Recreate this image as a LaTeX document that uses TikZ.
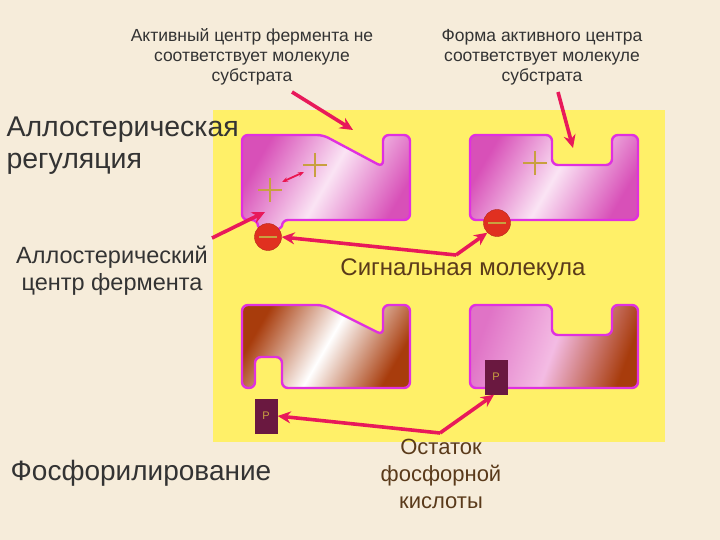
\documentclass[tikz,border=0pt]{standalone}
\usepackage{fontspec}
\setmainfont{Liberation Sans}
\usetikzlibrary{arrows.meta}
\definecolor{bg}{HTML}{F6ECDA}
\definecolor{yel}{HTML}{FFF068}
\definecolor{arr}{HTML}{E8195A}
\definecolor{mag}{HTML}{E030E0}
\definecolor{pinkA}{HTML}{D850B8}
\definecolor{pinkB}{HTML}{E878C8}
\definecolor{brownA}{HTML}{A83C0C}
\definecolor{gold}{HTML}{C8A040}
\definecolor{minusred}{HTML}{E03020}
\definecolor{pbox}{HTML}{6A1840}
\definecolor{txt}{HTML}{333333}
\definecolor{sig}{HTML}{5A3A1A}
\begin{document}
\begin{tikzpicture}[x=1pt,y=-1pt,
  enz/.style={draw=mag,line width=2.4pt,rounded corners=6},
  pinkfill/.style={left color=pinkA,right color=pinkA,middle color=white!80!pinkB,shading angle=60},
  brownfill/.style={left color=brownA,right color=brownA,middle color=white,shading angle=60},
  mixfill/.style={left color=pinkA!80!white,right color=brownA,middle color=pinkB!50!white,shading angle=70},
  pointer/.style={draw=arr,line width=3.6pt,-{Stealth[length=13pt,width=12pt]}},
  minusc/.style={circle,fill=minusred,draw=minusred!80!black,minimum size=27pt,inner sep=0pt},
  pnode/.style={fill=pbox,text=gold,font=\fontsize{11}{11}\selectfont,minimum width=23pt,minimum height=35pt,inner sep=0pt},
  lab/.style={text=txt,align=center,font=\fontsize{17.5}{20}\selectfont},
  big/.style={text=txt,align=left,font=\fontsize{28.5}{32}\selectfont}]
\fill[bg] (0,0) rectangle (720,540);
\useasboundingbox (0,0) rectangle (720,540);
\fill[yel] (213,110) rectangle (665,442);
% enzymes
\path[enz,pinkfill] (242,135) -- (323,135) -- (383,167) -- (383,135) -- (410,135) -- (410,220) -- (282,220) arc[start angle=0,end angle=180,radius=12] -- (242,220) -- cycle;
\path[enz,pinkfill] (470,135) -- (552,135) -- (552,165) -- (612,165) -- (612,135) -- (638,135) -- (638,220) -- (470,220) -- cycle;
\path[enz,brownfill] (242,305) -- (323,305) -- (383,335) -- (383,305) -- (410,305) -- (410,388) -- (282,388) -- (282,357) -- (255,357) -- (255,388) -- (242,388) -- cycle;
\path[enz,mixfill] (470,305) -- (552,305) -- (552,335) -- (612,335) -- (612,305) -- (638,305) -- (638,388) -- (470,388) -- cycle;
% plus signs
\foreach \n/\x/\y in {pa/270/190,pb/315/165,pc/535/163}{
  \node[inner sep=0,minimum size=24pt] (\n) at (\x,\y) {};
  \draw[gold,line width=2.2pt] (\n.north) -- (\n.south) (\n.west) -- (\n.east);}
\draw[arr!90!red,line width=1.8pt,{Stealth[length=6pt]}-{Stealth[length=6pt]}] (282,182) -- (304,172);
% minus circles
\node[minusc] (m1) at (268,237) {};
\node[minusc] (m2) at (497,223) {};
\foreach \m in {m1,m2}{\draw[gold,line width=2.2pt] ([xshift=-9pt]\m.center) -- ([xshift=9pt]\m.center);}
% P boxes
\node[pnode] (p1) at (266,416) {P};
\node[pnode] (p2) at (496,377) {P};
% texts
\node[lab] (t1) at (252,57) {Активный центр фермента не\\соответствует молекуле\\субстрата};
\node[lab] (t2) at (542,57) {Форма активного центра\\соответствует молекуле\\субстрата};
\node[big,anchor=west] (t3) at (3,146) {Аллостерическая\\регуляция};
\node[text=txt,align=center,font=\fontsize{23.5}{27}\selectfont] (t4) at (112,271) {Аллостерический\\центр фермента};
\node[text=sig,font=\fontsize{24}{26}\selectfont] (t5) at (463,270) {Сигнальная молекула};
\node[text=txt,font=\fontsize{28}{30}\selectfont] (t6) at (141,473) {Фосфорилирование};
\node[text=sig,align=center,font=\fontsize{22}{27}\selectfont] (t7) at (441,474) {Остаток\\фосфорной\\кислоты};
\coordinate (c1) at (292,92);
\coordinate (n1) at (353,130);
\coordinate (c2) at (558,92);
\coordinate (n2) at (573,148);
\coordinate (c3) at (212,238);
\coordinate (n3) at (265,212);
\coordinate (s0) at (456,255);
\coordinate (q0) at (440,433);
% arrows
\draw[pointer] (c1) -- (n1);
\draw[pointer] (c2) -- (n2);
\draw[pointer] (c3) -- (n3);
\draw[pointer] (s0) -- (m1.east);
\draw[pointer] (s0) -- (m2.south west);
\draw[pointer] (q0) -- (p1.east);
\draw[pointer] (q0) -- ([xshift=-2pt]p2.south);
\end{tikzpicture}
\end{document}
